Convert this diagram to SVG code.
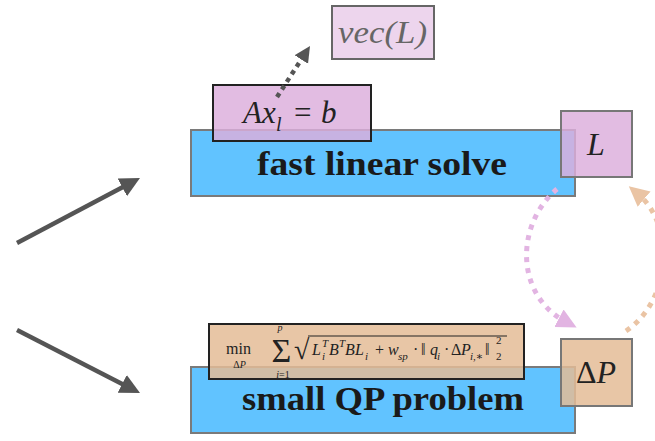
<svg xmlns="http://www.w3.org/2000/svg" width="655" height="441" viewBox="0 0 655 441">
<style>
.blue{fill:#61c3ff;stroke:#7a7a7a;stroke-width:2}
.pink{fill:#dcaedc;fill-opacity:0.83}
.tan{fill:#e4bc97;fill-opacity:0.85}
.dark{stroke:#222;stroke-width:2}
.grey{stroke:#777;stroke-width:2}
.lbl{font-family:"Liberation Serif","DejaVu Serif",serif;font-weight:bold;font-size:33px;fill:#1a1a1a}
.m{font-family:"Liberation Serif","DejaVu Serif",serif;fill:#222}
.it{font-style:italic}
.s{font-size:11px}
.conn{fill:none}
.solid{stroke:#555;stroke-width:4.5}
.dotg{stroke:#555;stroke-width:4.5;stroke-dasharray:4.5 4.5}
.dotp{stroke:#e2b4e2;stroke-width:5;stroke-dasharray:5 6}
.doto{stroke:#eac4a4;stroke-width:5;stroke-dasharray:5 6}
</style>
<defs>
<marker id="hg" markerUnits="userSpaceOnUse" markerWidth="24" markerHeight="24" viewBox="0 -12 24 24" refX="12" refY="0" orient="auto"><path d="M0,-10 L20,0 L0,10 z" fill="#555"/></marker>
<marker id="hgs" markerUnits="userSpaceOnUse" markerWidth="20" markerHeight="20" viewBox="0 -10 20 20" refX="2" refY="0" orient="auto"><path d="M0,-8 L16,0 L0,8 z" fill="#555"/></marker>
<marker id="hp" markerUnits="userSpaceOnUse" markerWidth="24" markerHeight="24" viewBox="0 -12 24 24" refX="8" refY="0" orient="auto"><path d="M0,-10 L20,0 L0,10 z" fill="#e2b4e2"/></marker>
<marker id="ho" markerUnits="userSpaceOnUse" markerWidth="24" markerHeight="24" viewBox="0 -12 24 24" refX="8" refY="0" orient="auto"><path d="M0,-10 L20,0 L0,10 z" fill="#eac4a4"/></marker>
</defs>

<g id="fast-linear-solve">
<rect class="blue" x="191" y="130" width="384" height="66"/>
<text class="lbl" x="257" y="175" textLength="250" lengthAdjust="spacingAndGlyphs">fast linear solve</text>
</g>

<g id="small-qp-problem">
<rect class="blue" x="191" y="367" width="384" height="66"/>
<text class="lbl" x="242" y="410" textLength="282" lengthAdjust="spacingAndGlyphs">small QP problem</text>
</g>

<g id="vecL">
<rect x="332" y="6" width="102" height="53" fill="#edd5ed" stroke="#666" stroke-width="2"/>
<text class="m it" x="338" y="43" font-size="32" style="fill:#666" textLength="89" lengthAdjust="spacingAndGlyphs">vec(L)</text>
</g>

<g id="axb">
<rect class="pink dark" x="213" y="85" width="158" height="56"/>
<text class="m" font-size="31" y="123"><tspan class="it" x="243">A</tspan><tspan class="it" x="262">x</tspan><tspan class="it" x="276" y="131" font-size="20">l</tspan><tspan x="294" y="123">=</tspan><tspan class="it" x="321">b</tspan></text>
</g>

<g id="L">
<rect class="pink grey" x="561" y="111" width="71" height="66"/>
<text class="m it" x="596" y="155" font-size="32" text-anchor="middle">L</text>
</g>

<g id="deltaP">
<rect class="tan grey" x="561" y="339" width="71" height="67"/>
<text class="m" x="596" y="383" font-size="32" text-anchor="middle">Δ<tspan class="it">P</tspan></text>
</g>

<g id="objective">
<rect class="tan dark" x="209" y="324" width="315" height="55"/>
<text class="m" x="226" y="354" font-size="16">min</text>
<text class="m" x="239.5" y="368" font-size="10" text-anchor="middle">Δ<tspan class="it">P</tspan></text>
<text class="m" x="281.5" y="362" font-size="34" text-anchor="middle">Σ</text>
<text class="m it" x="280" y="331" font-size="10" text-anchor="middle">p</text>
<text class="m" x="283" y="378" font-size="10" text-anchor="middle"><tspan class="it">i</tspan>=1</text>
<text class="m" x="294" y="359" font-size="28">√</text>
<line x1="308" y1="336" x2="507" y2="336" stroke="#222" stroke-width="1"/>
<text class="m" font-size="16" y="355">
<tspan class="it" x="312" y="355">L</tspan><tspan class="it s" x="322" y="360">i</tspan><tspan class="it s" x="322" y="347">T</tspan><tspan class="it" x="329" y="355">B</tspan><tspan class="it s" x="339" y="347">T</tspan><tspan class="it" x="345" y="355">B</tspan><tspan class="it" x="355" y="355">L</tspan><tspan class="it s" x="365" y="360">i</tspan><tspan x="375" y="355">+</tspan><tspan class="it" x="388" y="355">w</tspan><tspan class="it s" x="398" y="360">sp</tspan><tspan x="413" y="355">·</tspan><tspan x="421" y="355">‖</tspan><tspan class="it" x="430" y="355">q</tspan><tspan class="it s" x="437" y="360">i</tspan><tspan x="444" y="355">·</tspan><tspan x="451" y="355">Δ</tspan><tspan class="it" x="461" y="355">P</tspan><tspan class="s" x="470" y="360"><tspan class="it">i</tspan>,∗</tspan><tspan x="485" y="355">‖</tspan><tspan class="s" x="496" y="344">2</tspan><tspan class="s" x="496" y="360">2</tspan>
</text>
</g>

<g id="connectors" class="conn">
<line class="solid" x1="17" y1="243" x2="132.9" y2="181.7" marker-end="url(#hg)"/>
<line class="solid" x1="17" y1="330" x2="132.9" y2="389.4" marker-end="url(#hg)"/>
<line class="dotg" x1="277" y1="97" x2="302.4" y2="57.8" marker-end="url(#hgs)"/>
<path class="dotp" d="M557,189 C515,225 515,295 566,322" marker-end="url(#hp)"/>
<path class="doto" d="M626,331 C672,300 675,225 638,194" marker-end="url(#ho)"/>
</g>
</svg>
